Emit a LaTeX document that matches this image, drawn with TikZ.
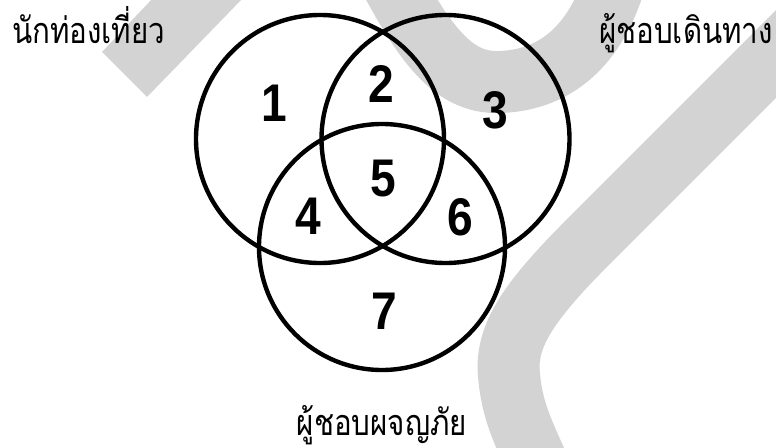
\documentclass[tikz,border=0pt]{standalone}
\usepackage{graphicx}
\usepackage{fontspec}
\setmainfont{Liberation Sans}
\newfontfamily\thaifont[Script=Thai]{Loma}
\definecolor{wm}{RGB}{211,211,211}
\newcommand{\digit}[1]{\scalebox{0.87}[1]{#1}}
\newcommand{\thlabel}[1]{\scalebox{0.82}[1]{\thaifont\fontsize{36}{40}\selectfont #1}}
\tikzset{
  venn/.style={draw=black, line width=4.4pt, circle, inner sep=0pt},
  num/.style={font=\fontsize{53}{60}\selectfont\bfseries, inner sep=0pt, anchor=center},
  setlabel/.style={inner sep=0pt},
  wmark/.style={draw=wm, line width=62pt, line cap=butt}
}
\begin{document}
\begin{tikzpicture}[x=1pt,y=-1pt]
\useasboundingbox (0,0) rectangle (776,447);
\begin{scope}
\clip (0,0) rectangle (776,447);
% watermark
\fill[wm] (153,-2) -- (243,-2) -- (147,97) -- (102,52) -- cycle;
\draw[wmark] (370,-60) .. controls (420,40) and (450,84) .. (500,82) .. controls (560,80) and (600,40) .. (618,-30);
\draw[wmark] (900,-70) -- (590,240) .. controls (530,300) and (505,335) .. (509,375) .. controls (512,410) and (522,430) .. (540,470);
\end{scope}
% circles
\node[venn, minimum size=248pt] (A) at (320,139) {};
\node[venn, minimum size=248pt] (B) at (445.5,139) {};
\node[venn, minimum size=246pt] (C) at (382,247) {};
% numbers
\node[num] (n1) at (274,103) {\digit{1}};
\node[num] (n2) at (381,84) {\digit{2}};
\node[num] (n3) at (495,110) {\digit{3}};
\node[num] (n4) at (308,216) {\digit{4}};
\node[num] (n5) at (383,179) {\digit{5}};
\node[num] (n6) at (460,217) {\digit{6}};
\node[num] (n7) at (384,311) {\digit{7}};
% labels
\node[setlabel, anchor=base west] (la) at (12,43) {\thlabel{นักท่องเที่ยว}};
\node[setlabel, anchor=base east] (lb) at (773,43) {\thlabel{ผู้ชอบเดินทาง}};
\node[setlabel, anchor=base] (lc) at (382,435) {\thlabel{ผู้ชอบผจญภัย}};
\end{tikzpicture}
\end{document}
